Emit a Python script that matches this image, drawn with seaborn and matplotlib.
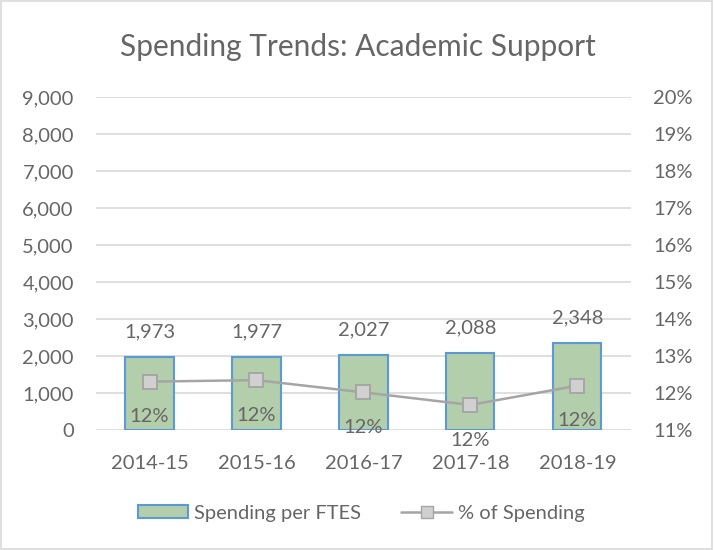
import pandas as pd
import numpy as np
import matplotlib
matplotlib.use('Agg')
import matplotlib.pyplot as plt
import seaborn as sns
from matplotlib.ticker import FuncFormatter
from matplotlib.lines import Line2D
from matplotlib.patches import Patch

# 데이터
years = ['2014-15', '2015-16', '2016-17', '2017-18', '2018-19']
spending = [1973, 1977, 2027, 2088, 2348]
pct = [12.31, 12.35, 12.02, 11.68, 12.20]

df = pd.DataFrame({'year': years, 'spending': spending, 'pct': pct})

sns.set_theme(style='white')
plt.rcParams['font.family'] = ['Lato', 'DejaVu Sans']
txt = '#666666'
fs = 14.5

fig = plt.figure(figsize=(7.15, 5.5), dpi=100)
ax = fig.add_axes([0.1343, 0.218, 0.748, 0.6055])

# 막대
sns.barplot(data=df, x='year', y='spending', ax=ax, color='#b3ceab',
            edgecolor='#5b9bd5', linewidth=1.5, width=0.45, saturation=1, zorder=3)
ax.set_ylim(0, 9000)
ax.set_yticks(np.arange(0, 9001, 1000))
ax.yaxis.set_major_formatter(FuncFormatter(lambda v, p: f'{int(v):,}'))
ax.grid(axis='y', color='#d9d9d9', linewidth=1.2, zorder=0)
ax.set_axisbelow(True)
ax.set_xlabel('')
ax.set_ylabel('')
for s in ax.spines.values():
    s.set_visible(False)
ax.tick_params(axis='y', labelsize=fs, colors=txt, length=0, pad=16)
ax.tick_params(axis='x', labelsize=fs, colors=txt, length=0, pad=18)

for i, v in enumerate(spending):
    ax.text(i, v + 680, f'{v:,}', ha='center', va='center', fontsize=fs, color=txt)

# 비율 선
ax2 = ax.twinx()
sns.pointplot(data=df, x='year', y='pct', ax=ax2, color='#a5a5a5', markers='s',
              markersize=10, linewidth=1.8, zorder=4)
for ln in ax2.lines:
    ln.set_markerfacecolor('#d0d0d0')
    ln.set_markeredgecolor('#a5a5a5')
ax2.set_ylim(11, 20)
ax2.set_yticks(np.arange(11, 20.5, 1))
ax2.yaxis.set_major_formatter(FuncFormatter(lambda v, p: f'{int(v)}%'))
ax2.set_ylabel('')
ax2.set_xlabel('')
for s in ax2.spines.values():
    s.set_visible(False)
ax2.tick_params(axis='y', labelsize=fs, colors=txt, length=0, pad=16)

for i, v in enumerate(pct):
    ax2.text(i, v - 0.95, f'{round(v):d}%', ha='center', va='center', fontsize=fs,
             color=txt, clip_on=False)

fig.suptitle('Spending Trends: Academic Support', x=0.5, y=0.915, va='center',
             fontsize=21.5, color=txt)

handles = [Patch(facecolor='#b3ceab', edgecolor='#5b9bd5', linewidth=1.5),
           Line2D([0], [0], color='#a5a5a5', linewidth=1.8, marker='s', markersize=9,
                  markerfacecolor='#d0d0d0', markeredgecolor='#a5a5a5')]
fig.legend(handles, ['Spending per FTES', '% of Spending'], loc='center',
           bbox_to_anchor=(0.505, 0.067), ncol=2, frameon=False, fontsize=fs,
           labelcolor=txt, handlelength=2.5, handleheight=0.6, columnspacing=2.0,
           handletextpad=0.3)

fig.patches.append(plt.Rectangle((0.002, 0.002), 0.994, 0.996, transform=fig.transFigure,
                                 fill=False, edgecolor='#d9d9d9', linewidth=1.2))

fig.savefig('out.png', dpi=100)
